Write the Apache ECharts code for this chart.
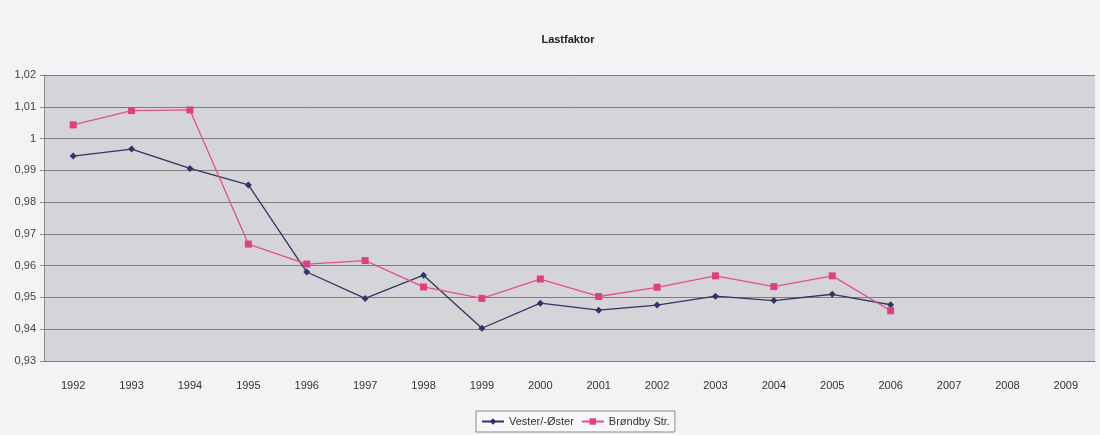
<!DOCTYPE html>
<html>
<head>
<meta charset="utf-8">
<script src="https://cdn.jsdelivr.net/npm/echarts@6/dist/echarts.min.js"></script>
<style>
  html, body { margin: 0; padding: 0; background: #f4f2f5; }
  #chart { width: 1100px; height: 435px; }
</style>
</head>
<body>
<div id="chart"></div>
<script>
// Years on the category axis (the last three have no data yet)
const years = ['1992','1993','1994','1995','1996','1997','1998','1999','2000',
               '2001','2002','2003','2004','2005','2006','2007','2008','2009'];

// Load factor per year
const vesterOster = [0.9945, 0.9967, 0.9906, 0.9854, 0.958, 0.9497, 0.957, 0.9403,
                     0.9482, 0.946, 0.9476, 0.9504, 0.949, 0.951, 0.9477];
const brondbyStr  = [1.0043, 1.0088, 1.009, 0.9668, 0.9605, 0.9616, 0.9533, 0.9497,
                     0.9558, 0.9503, 0.9532, 0.9568, 0.9534, 0.9568, 0.9458];

const seriesNames = ['Vester/-Øster', 'Brøndby Str.'];

const chart = echarts.init(document.getElementById('chart'));

// Decimal comma, no trailing zeros (1,00 -> 1)
const fmt = v => String(+v.toFixed(2)).replace('.', ',');

chart.setOption({
  backgroundColor: '#f4f2f5',
  animation: false,
  textStyle: { fontFamily: 'Liberation Sans, Arial, sans-serif' },
  title: {
    text: 'Lastfaktor',
    left: 563, top: 29,
    textAlign: 'center',
    textStyle: { fontSize: 11, fontWeight: 'bold', color: '#222' }
  },
  legend: {
    data: seriesNames,
    bottom: 3, left: 476,
    itemWidth: 22, itemHeight: 8, itemGap: 7,
    borderColor: '#8a8a8a', borderWidth: 1, padding: [5, 5],
    backgroundColor: '#f7f6f8',
    textStyle: { fontSize: 11, color: '#333' }
  },
  grid: {
    left: 44, right: 5, top: 75, bottom: 74,
    show: true, backgroundColor: '#d5d4d9', borderWidth: 0
  },
  xAxis: {
    type: 'category',
    data: years,
    boundaryGap: true,
    axisLine: { lineStyle: { color: '#7a7a7a' } },
    axisTick: { inside: true, length: 4, lineStyle: { color: '#7a7a7a' } },
    axisLabel: { color: '#333', fontSize: 11, margin: 19 }
  },
  yAxis: {
    type: 'value',
    min: 0.93, max: 1.02, interval: 0.01,
    axisLine: { show: true, lineStyle: { color: '#8a8a8a' } },
    axisTick: { show: true, length: 4, lineStyle: { color: '#8a8a8a' } },
    axisLabel: { color: '#444', fontSize: 11, margin: 8, formatter: fmt },
    splitLine: { lineStyle: { color: '#7d7d80', width: 1 } }
  },
  series: [
    {
      name: seriesNames[0],
      type: 'line',
      data: vesterOster,
      symbol: 'diamond', symbolSize: 7,
      lineStyle: { color: '#2f3566', width: 1.3 },
      itemStyle: { color: '#2f3566' }
    },
    {
      name: seriesNames[1],
      type: 'line',
      data: brondbyStr,
      symbol: 'rect', symbolSize: 7,
      lineStyle: { color: '#e3508a', width: 1.3 },
      itemStyle: { color: '#e0407f' }
    }
  ]
});
</script>
</body>
</html>
